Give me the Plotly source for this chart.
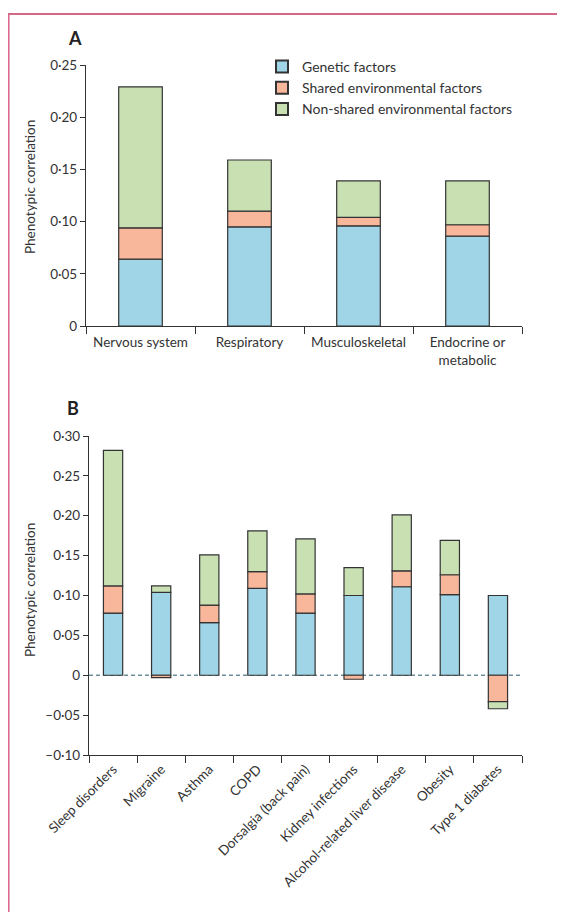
import plotly.graph_objects as go

# page body has an 8px default margin, so the figure is drawn 8px smaller and all
# positions below are given in reference-page pixels and shifted by OFF
OFF = 8
W, H = 565 - OFF, 912 - OFF

# ---- Data: panel A ----
cats_a = ["Nervous system", "Respiratory", "Musculoskeletal", "Endocrine or<br>metabolic"]
gen_a = [0.064, 0.095, 0.096, 0.086]
shared_a = [0.030, 0.015, 0.008, 0.011]
nonshared_a = [0.135, 0.049, 0.035, 0.042]

# ---- Data: panel B ----
cats_b = ["Sleep disorders", "Migraine", "Asthma", "COPD", "Dorsalgia (back pain)",
          "Kidney infections", "Alcohol-related liver disease", "Obesity", "Type 1 diabetes"]
gen_b = [0.078, 0.104, 0.066, 0.109, 0.078, 0.100, 0.111, 0.101, 0.100]
shared_b = [0.034, -0.003, 0.022, 0.021, 0.024, -0.005, 0.020, 0.025, -0.033]
nonshared_b = [0.170, 0.008, 0.063, 0.051, 0.069, 0.035, 0.070, 0.043, -0.009]

series_names = ["Genetic factors", "Shared environmental factors", "Non-shared environmental factors"]
colors = ["#9fd5e7", "#f8b69b", "#c9e0b2"]

ticks_a = [0, 0.05, 0.10, 0.15, 0.20, 0.25]
ticktext_a = ["0", "0·05", "0·10", "0·15", "0·20", "0·25"]
ticks_b = [-0.10, -0.05, 0, 0.05, 0.10, 0.15, 0.20, 0.25, 0.30]
ticktext_b = ["–0·10", "–0·05", "0", "0·05", "0·10", "0·15", "0·20", "0·25", "0·30"]

FONT = "Lato"
TXT = "#333333"
LINE = "#333333"

fig = go.Figure()

for name, vals, col in zip(series_names, [gen_a, shared_a, nonshared_a], colors):
    fig.add_trace(go.Bar(x=cats_a, y=vals, name=name, marker=dict(color=col, line=dict(color=LINE, width=1.2)),
                         xaxis="x", yaxis="y", showlegend=True))
for name, vals, col in zip(series_names, [gen_b, shared_b, nonshared_b], colors):
    fig.add_trace(go.Bar(x=cats_b, y=vals, name=name, marker=dict(color=col, line=dict(color=LINE, width=1.2)),
                         xaxis="x2", yaxis="y2", showlegend=False))

def px(x):
    return (x - OFF) / W

def py(y):
    return 1 - (y - OFF) / H

def axis(fsize, **kw):
    d = dict(showline=True, linecolor=LINE, linewidth=1.3, ticks="outside", tickcolor=LINE, tickwidth=1.3,
             tickfont=dict(family=FONT, size=fsize, color=TXT), showgrid=False, zeroline=False,
             automargin=False)
    d.update(kw)
    return d

fig.update_layout(
    template="none",
    width=W, height=H,
    margin=dict(l=0, r=0, t=0, b=0, autoexpand=False),
    paper_bgcolor="white", plot_bgcolor="rgba(0,0,0,0)",
    barmode="relative", bargap=0.6,
    font=dict(family=FONT, color=TXT),
    xaxis=axis(13.5, domain=[px(86), px(522)], anchor="y", type="category", tickson="boundaries",
               ticklen=7, tickangle=0, ticklabelstandoff=4),
    yaxis=axis(13.5, domain=[py(326), py(65)], anchor="x", range=[0, 0.25], tickvals=ticks_a,
               ticktext=ticktext_a, ticklen=5),
    xaxis2=axis(13.5, domain=[px(89), px(522)], anchor="y2", type="category", tickson="boundaries",
                ticklen=7, tickangle=-45),
    yaxis2=axis(13.5, domain=[py(755), py(436)], anchor="x2", range=[-0.10, 0.30], tickvals=ticks_b,
                ticktext=ticktext_b, ticklen=5),
    legend=dict(x=px(262), y=py(51), xanchor="left", yanchor="top", bgcolor="rgba(0,0,0,0)",
                font=dict(family=FONT, size=14, color=TXT), tracegroupgap=0, itemsizing="constant"),
    showlegend=True,
)

def label(text, x, y, size, angle=0, color=TXT):
    fig.add_annotation(text=text, x=px(x), y=py(y), xref="paper", yref="paper", showarrow=False,
                       xanchor="center", yanchor="middle", textangle=angle,
                       font=dict(family=FONT, size=size, color=color))

label("<b>A</b>", 75, 38, 18, color="#222")
label("<b>B</b>", 73, 408, 18, color="#222")
label("Phenotypic correlation", 30, 187, 13.5, angle=-90)
label("Phenotypic correlation", 30, 590, 13.5, angle=-90)

# zero reference line in panel B
fig.add_shape(type="line", xref="x2 domain", yref="y2", x0=0, x1=1, y0=0, y1=0,
              line=dict(color="#6f8e9c", width=1.3, dash="4px,3px"), layer="below")

# page frame lines
fig.add_shape(type="line", xref="paper", yref="paper", x0=px(8), x1=1, y0=py(14), y1=py(14),
              line=dict(color="#c4365f", width=1.5))
fig.add_shape(type="line", xref="paper", yref="paper", x0=px(8.8), x1=px(8.8), y0=0, y1=py(14),
              line=dict(color="#d9648a", width=1.5))

fig.write_html("out.html")
